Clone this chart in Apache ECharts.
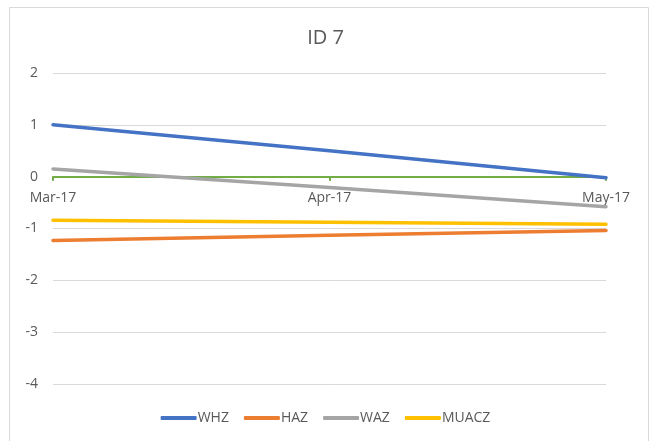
<!DOCTYPE html>
<html>
<head>
<meta charset="utf-8">
<script src="https://cdn.jsdelivr.net/npm/echarts@6/dist/echarts.min.js"></script>
<style>
html,body{margin:0;padding:0;background:#fff;}
#c{width:651px;height:441px;}
</style>
</head>
<body>
<div id="c"></div>
<script>
var categories = ['Mar-17', 'Apr-17', 'May-17'];
var seriesNames = ['WHZ', 'HAZ', 'WAZ', 'MUACZ'];
var WHZ = [1.0, 0.5, -0.02];
var HAZ = [-1.23, -1.13, -1.04];
var WAZ = [0.15, -0.21, -0.58];
var MUACZ = [-0.84, -0.88, -0.92];
var yTicks = {min: -4, max: 2, interval: 1};
var colors = ['#4472C4', '#ED7D31', '#A5A5A5', '#FFC000'];
var values = [WHZ, HAZ, WAZ, MUACZ];

var W = 651, H = 441;
var grid = {left: 53, right: 45, top: 73, bottom: 57};
var plotH = H - grid.top - grid.bottom;
// move the category axis up to y = 0 (labels follow the axis line)
var zeroOffset = -plotH * (0 - yTicks.min) / (yTicks.max - yTicks.min);

var chart = echarts.init(document.getElementById('c'));
var font = '"Open Sans", "Liberation Sans", sans-serif';
chart.setOption({
  animation: false,
  color: colors,
  graphic: [{
    type: 'rect',
    shape: {x: 9.5, y: 7.5, width: 639, height: 450},
    style: {fill: 'none', stroke: '#d9d9d9', lineWidth: 1},
    z: -10
  }],
  title: {
    text: 'ID 7',
    left: 'center',
    top: 23,
    textStyle: {fontFamily: font, fontSize: 20, fontWeight: 'normal', color: '#595959'}
  },
  legend: {
    bottom: 11,
    left: 'center',
    icon: 'roundRect',
    itemWidth: 36,
    itemHeight: 4,
    itemGap: 15,
    textStyle: {fontFamily: font, fontSize: 14, color: '#595959', padding: [0, 0, 0, -4]},
    data: seriesNames
  },
  grid: {left: grid.left, right: grid.right, top: grid.top, bottom: grid.bottom, containLabel: false},
  xAxis: {
    type: 'category',
    data: categories,
    boundaryGap: false,
    offset: zeroOffset,
    z: 1,
    axisLine: {onZero: false, lineStyle: {color: '#70AD47', width: 2}},
    axisTick: {show: true, length: 4, lineStyle: {color: '#70AD47', width: 2}},
    axisLabel: {fontFamily: font, fontSize: 14, color: '#595959', margin: 14},
    splitLine: {show: false}
  },
  yAxis: {
    type: 'value',
    min: yTicks.min,
    max: yTicks.max,
    interval: yTicks.interval,
    axisLine: {show: false},
    axisTick: {show: false},
    axisLabel: {fontFamily: font, fontSize: 14, color: '#595959', margin: 15},
    splitLine: {lineStyle: {color: '#d9d9d9', width: 1}}
  },
  series: seriesNames.map(function (n, i) {
    return {
      name: n,
      type: 'line',
      data: values[i],
      symbol: 'none',
      z: 3,
      lineStyle: {width: 3.5, color: colors[i], cap: 'round'},
      itemStyle: {color: colors[i]}
    };
  })
});
</script>
</body>
</html>
